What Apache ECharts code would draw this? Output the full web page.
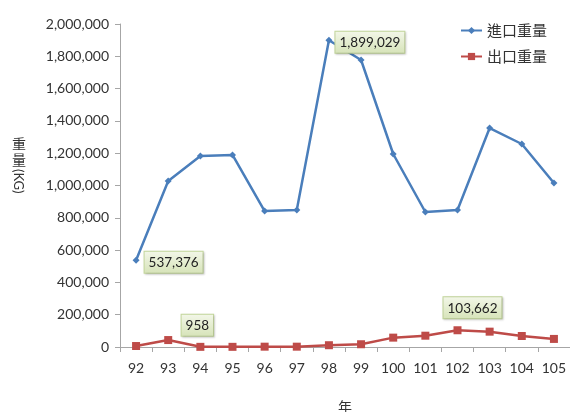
<!DOCTYPE html>
<html><head><meta charset="utf-8">
<script src="https://cdn.jsdelivr.net/npm/echarts@6/dist/echarts.min.js"></script>
<style>html,body{margin:0;padding:0;background:#fff}#c{width:570px;height:412px}</style>
</head><body><div id="c"></div>
<script>
const years = ['92','93','94','95','96','97','98','99','100','101','102','103','104','105'];
const importWeight = [537376, 1028000, 1183000, 1189000, 842000, 848000, 1899029, 1777000, 1195000, 836000, 848000, 1356000, 1257000, 1015000];
const exportWeight = [6000, 43000, 958, 1000, 2000, 2000, 11000, 17000, 58000, 70000, 103662, 95000, 68000, 50000];
const importLabelIdx = [0, 6];
const exportLabelIdx = [2, 10];

const labelBox = {
  show: true,
  formatter: p => p.value.toLocaleString('en-US'),
  color: '#222',
  fontFamily: 'Lato, "Open Sans", sans-serif',
  fontSize: 13.5,
  padding: [4, 4, 3, 4],
  borderColor: '#c3d69b',
  borderWidth: 1,
  backgroundColor: {type: 'linear', x: 0, y: 0, x2: 0, y2: 1,
    colorStops: [{offset: 0, color: '#f3f7e9'}, {offset: 1, color: '#d6e3b8'}]},
  shadowColor: 'rgba(0,0,0,0.15)', shadowBlur: 2, shadowOffsetX: 1, shadowOffsetY: 1
};
const importLabelPos = {0: {position: 'right', distance: 5, offset: [0, 2]}, 6: {position: 'right', distance: 3, offset: [0, 2]}};
const exportLabelPos = {2: {position: 'top', distance: 7, offset: [-3, 0]}, 10: {position: 'top', distance: 8, offset: [15, 0]}};

const chart = echarts.init(document.getElementById('c'));
chart.setOption({
  animation: false,
  textStyle: {fontFamily: 'Lato, "Open Sans", sans-serif'},
  grid: {left: 120, right: 0, top: 24, bottom: 65, containLabel: false, outerBoundsMode: 'none'},
  legend: {
    orient: 'vertical', left: 455, top: 18, itemGap: 11, itemWidth: 21, itemHeight: 9,
    textStyle: {fontFamily: '"Noto Sans CJK TC", sans-serif', fontSize: 15, color: '#333'},
    data: ['進口重量', '出口重量']
  },
  xAxis: {
    type: 'category', data: years, boundaryGap: true,
    name: '年', nameLocation: 'middle', nameGap: 53,
    nameTextStyle: {fontFamily: '"Noto Sans CJK TC", sans-serif', fontSize: 14, color: '#333'},
    axisLine: {lineStyle: {color: '#a6a6a6', width: 1}},
    axisTick: {show: true, alignWithLabel: false, length: 5, lineStyle: {color: '#a6a6a6'}},
    axisLabel: {color: '#333', fontSize: 14, margin: 14}
  },
  yAxis: {
    type: 'value', min: 0, max: 2000000, interval: 200000,
    splitLine: {show: false},
    axisLine: {show: true, lineStyle: {color: '#a6a6a6', width: 1}},
    axisTick: {show: true, length: 5, lineStyle: {color: '#a6a6a6'}},
    axisLabel: {color: '#333', fontSize: 14, margin: 11, formatter: v => v.toLocaleString('en-US')}
  },
  graphic: [
    {type: 'text', left: 12, top: 137, style: {text: '重', font: '14px "Noto Sans CJK TC"', fill: '#333'}},
    {type: 'text', left: 12, top: 153, style: {text: '量', font: '14px "Noto Sans CJK TC"', fill: '#333'}},
    {type: 'text', left: 12, top: 169, rotation: -Math.PI / 2, style: {text: '(KG)', font: '13px Lato', fill: '#333'}}
  ],
  series: [
    {
      name: '進口重量', type: 'line', symbol: 'diamond', symbolSize: 7,
      color: '#4a7ebb', lineStyle: {width: 2.5, color: '#4a7ebb'},
      itemStyle: {color: '#4a7ebb'},
      data: importWeight.map((v, i) => importLabelIdx.includes(i)
        ? {value: v, label: Object.assign({}, labelBox, importLabelPos[i])} : v),
      z: 3
    },
    {
      name: '出口重量', type: 'line', symbol: 'rect', symbolSize: 8,
      color: '#be4b48', lineStyle: {width: 2.5, color: '#be4b48'},
      itemStyle: {color: '#be4b48'},
      data: exportWeight.map((v, i) => exportLabelIdx.includes(i)
        ? {value: v, label: Object.assign({}, labelBox, exportLabelPos[i])} : v),
      z: 2
    }
  ]
});
</script></body></html>
